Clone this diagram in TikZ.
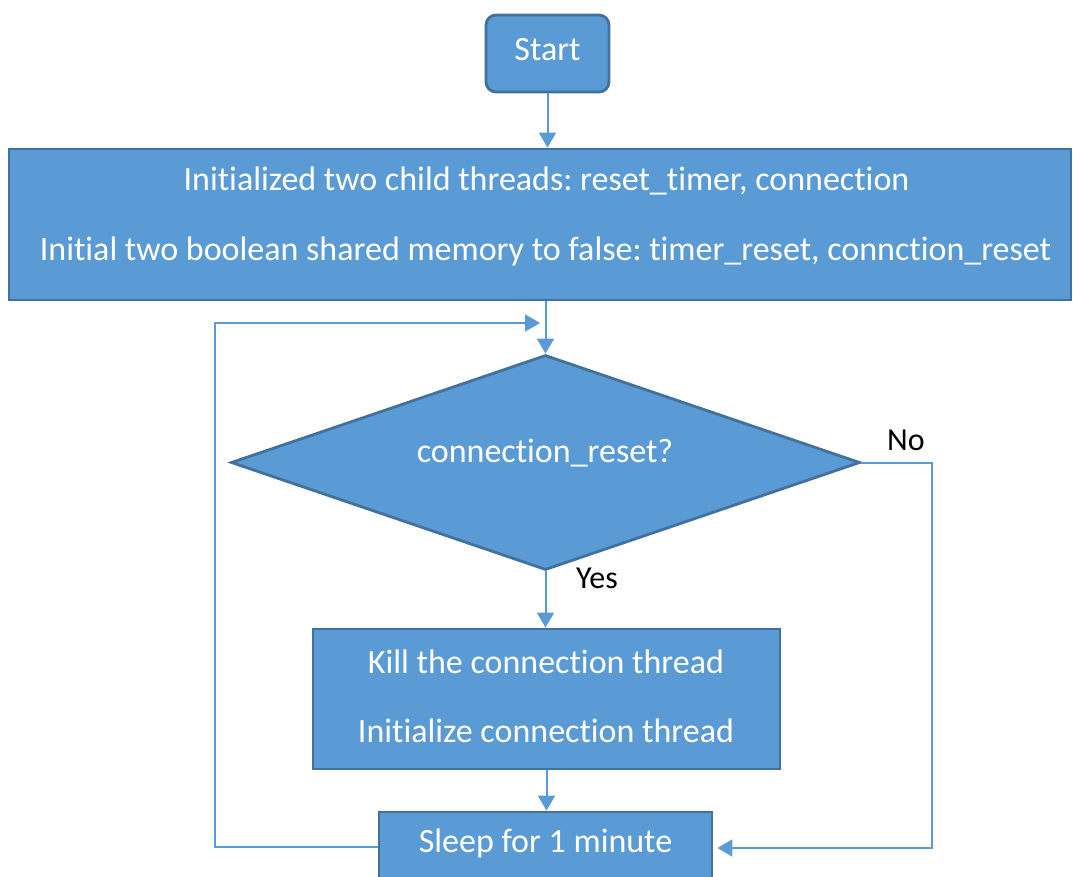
\documentclass[tikz,border=0pt]{standalone}
\usepackage{fontspec}
\setmainfont{Carlito}[Ligatures=NoCommon]
\usetikzlibrary{shapes.geometric,arrows.meta}
\definecolor{officeblue}{HTML}{5B9BD5}
\definecolor{officeedge}{HTML}{41719C}
\frenchspacing
\begin{document}
\begin{tikzpicture}[x=1pt,y=-1pt,
  box/.style={draw=officeedge,fill=officeblue,line width=2.8pt,inner sep=0pt},
  txt/.style={text=white,font=\fontsize{34}{40}\selectfont,inner sep=0pt},
  lbl/.style={text=black,font=\fontsize{32}{38}\selectfont,inner sep=0pt},
  flow/.style={draw=officeblue,line width=2pt,-{Triangle[width=17pt,length=15pt]}}]
\useasboundingbox (0,0) rectangle (1073,876);
\clip (0,0) rectangle (1073,876);

% process boxes
\node[box,rounded corners=10pt,minimum width=123,minimum height=77] (start) at (547.5,53.5) {};
\node[txt] (starttxt) at (547.5,50) {Start};

\node[box,minimum width=1062,minimum height=151] (init) at (540,224.5) {};
\node[txt] (init1) at (546.5,181) {Initialized two child threads: reset\_timer, connection};
\node[txt] (init2) at (545.5,251) {Initial two boolean shared memory to false: timer\_reset, connction\_reset};

\node[box,diamond,aspect=2.93,minimum width=629,minimum height=215] (check) at (545.5,462.5) {};
\node[txt] (checktxt) at (545,453) {connection\_reset?};

\node[box,minimum width=467,minimum height=140] (kill) at (546.5,699) {};
\node[txt] (kill1) at (546,662) {Kill the connection thread};
\node[txt] (kill2) at (546,731) {Initialize connection thread};

\node[box,minimum width=333,minimum height=90] (sleep) at (545.5,857) {};
\node[txt] (sleeptxt) at (545.5,843) {Sleep for 1 minute};

% connectors
\coordinate (loopin) at (546,323);
\coordinate (nocorner) at (932,0);
\draw[flow] (start.south) -- (init.north -| start.south);
\draw[flow] (init.south -| check.north) -- (check.north);
\draw[flow] (check.south) -- (kill.north -| check.south);
\draw[flow] (kill.south) -- (sleep.north -| kill.south);
\draw[flow,shorten >=6pt] (sleep.west |- 0,847) -- (215,847) -- (215,323) -- (loopin);
\draw[flow,shorten >=4pt] (check.east) -- (check.east -| nocorner) -- (932,848) -- (sleep.east |- 0,848);

% branch labels
\node[lbl] (yes) at (597,578) {Yes};
\node[lbl] (no) at (906,440) {No};
\end{tikzpicture}
\end{document}
